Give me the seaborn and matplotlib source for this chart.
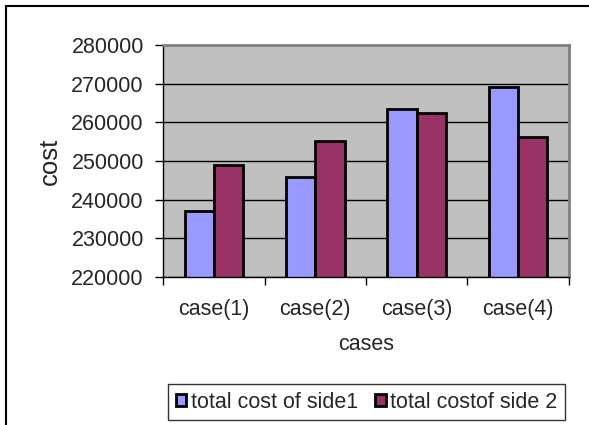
import matplotlib
matplotlib.use("Agg")
import matplotlib.pyplot as plt
from matplotlib.patches import Rectangle
from matplotlib.ticker import FixedLocator
import pandas as pd
import seaborn as sns

# Chart values
cases = ["case(1)", "case(2)", "case(3)", "case(4)"]
side1_cost = [237100, 245900, 263500, 269200]
side2_cost = [248900, 255200, 262500, 256300]
series_names = ["total cost of side1", "total costof side 2"]
y_ticks = [220000, 230000, 240000, 250000, 260000, 270000, 280000]

df = pd.DataFrame({
    "case": cases * 2,
    "cost": side1_cost + side2_cost,
    "series": [series_names[0]] * len(cases) + [series_names[1]] * len(cases),
})

sns.set_style("ticks")
plt.rcParams["font.family"] = ["Liberation Sans", "DejaVu Sans"]
plt.rcParams["font.size"] = 15

fig = plt.figure(figsize=(5.89, 4.25), dpi=100)
fig.patch.set_facecolor("white")
ax = fig.add_axes([163.3 / 589, 1 - 277 / 425, 405.4 / 589, 232 / 425])

sns.barplot(
    data=df, x="case", y="cost", hue="series",
    palette=["#9999FF", "#993366"], saturation=1,
    width=0.58, edgecolor="black", linewidth=2,
    ax=ax,
)

ax.set_facecolor("#C0C0C0")
ax.set_ylim(y_ticks[0], y_ticks[-1])
ax.set_xlim(-0.5, len(cases) - 0.5)
ax.set_yticks(y_ticks)
ax.set_yticklabels([str(v) for v in y_ticks])
ax.set_axisbelow(True)
ax.grid(axis="y", color="black", linewidth=1)
ax.grid(axis="x", visible=False)

# category tick marks sit between the groups
ax.xaxis.set_minor_locator(FixedLocator([i - 0.5 for i in range(len(cases) + 1)]))
ax.tick_params(axis="x", which="major", length=0, pad=16, labelsize=15.5)
ax.tick_params(axis="x", which="minor", length=6, width=1, color="black", direction="out")
ax.tick_params(axis="y", length=6, width=1, color="black", direction="out", pad=8, labelsize=15.5)

for side in ("top", "right"):
    ax.spines[side].set_color("#808080")
    ax.spines[side].set_linewidth(2)
    ax.spines[side].set_visible(True)
for side in ("left", "bottom"):
    ax.spines[side].set_color("black")
    ax.spines[side].set_linewidth(1)

ax.set_xlabel("cases", fontsize=15.5)
ax.set_ylabel("cost", fontsize=18.5)
ax.xaxis.set_label_coords(0.5, -0.245)
ax.yaxis.set_label_coords(-0.25, 0.5)

ax.legend_.remove()
handles, labels = ax.get_legend_handles_labels()
leg = fig.legend(
    handles, labels, loc="center", bbox_to_anchor=(366.5 / 589, 1 - 402 / 425),
    ncol=2, frameon=True, fancybox=False, shadow=False,
    handlelength=0.5, handleheight=0.5, handletextpad=0.2,
    columnspacing=0.8, borderpad=0.35, borderaxespad=0, fontsize=15.5,
)
leg.get_frame().set_edgecolor("black")
leg.get_frame().set_linewidth(1)
for h in leg.legend_handles:
    h.set_edgecolor("black")
    h.set_linewidth(2)

# outer chart border
fig.patches.append(Rectangle((6 / 589, -0.5), 2.0, 1.5 - 6 / 425, transform=fig.transFigure,
                             fill=False, edgecolor="black", linewidth=1.5))

fig.savefig("out.png", dpi=100)
